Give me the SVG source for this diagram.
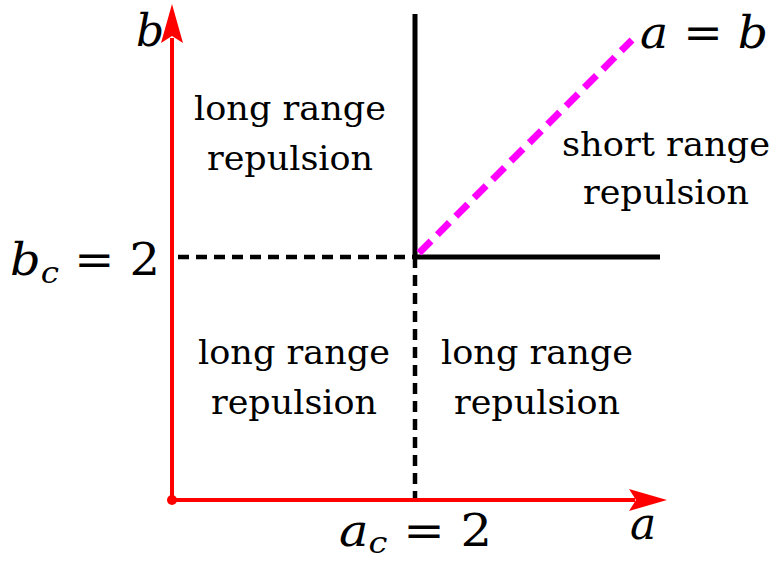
<svg xmlns="http://www.w3.org/2000/svg" width="775" height="563" viewBox="0 0 775 563">
<style>
.lbl{font-family:"DejaVu Serif",serif;font-size:33px;fill:#000;text-anchor:middle}
.math{font-family:"DejaVu Serif",serif;font-size:44px;fill:#000}
.it{font-style:italic}
.ax{stroke:#ff0000;stroke-width:4;fill:none}
.solid{stroke:#000;stroke-width:5;fill:none}
.dash{stroke:#000;stroke-width:4.5;stroke-dasharray:11 7;fill:none}
</style>
<rect width="775" height="563" fill="#fff"/>
<g id="connectors">
<line class="dash" x1="178" y1="257" x2="415" y2="257"/>
<line class="dash" x1="415" y1="257" x2="415" y2="500"/>
<line class="solid" x1="415" y1="14" x2="415" y2="259"/>
<line class="solid" x1="413" y1="257" x2="660" y2="257"/>
<line x1="419" y1="253" x2="632" y2="40" stroke="#ff00ff" stroke-width="7" stroke-dasharray="17 9"/>
</g>
<g id="axes">
<line class="ax" x1="172" y1="500" x2="172" y2="38"/>
<polygon points="172,4 183,43 172,36 161,43" fill="#ff0000"/>
<line class="ax" x1="172" y1="500" x2="635" y2="500"/>
<polygon points="667,500 629,489 636,500 629,511" fill="#ff0000"/>
<circle cx="172" cy="500" r="5" fill="#ff0000"/>
</g>
<g id="labels">
<text class="math it" x="136" y="46">b</text>
<text class="math" x="640" y="48" textLength="128" lengthAdjust="spacingAndGlyphs"><tspan class="it">a</tspan> = <tspan class="it">b</tspan></text>
<text class="math" x="10" y="275" textLength="150" lengthAdjust="spacingAndGlyphs"><tspan class="it">b</tspan><tspan class="it" font-size="30" dy="8">c</tspan><tspan dy="-8"> = 2</tspan></text>
<text class="math" x="339" y="546" textLength="153" lengthAdjust="spacingAndGlyphs"><tspan class="it">a</tspan><tspan class="it" font-size="30" dy="7">c</tspan><tspan dy="-7"> = 2</tspan></text>
<text class="math it" x="630" y="539">a</text>
</g>
<g id="region-upper-left">
<text class="lbl" x="290" y="120" textLength="192" lengthAdjust="spacingAndGlyphs">long range</text>
<text class="lbl" x="290" y="170" textLength="166" lengthAdjust="spacingAndGlyphs">repulsion</text>
</g>
<g id="region-upper-right">
<text class="lbl" x="666" y="156" textLength="208" lengthAdjust="spacingAndGlyphs">short range</text>
<text class="lbl" x="666" y="204" textLength="166" lengthAdjust="spacingAndGlyphs">repulsion</text>
</g>
<g id="region-lower-left">
<text class="lbl" x="294" y="364" textLength="192" lengthAdjust="spacingAndGlyphs">long range</text>
<text class="lbl" x="294" y="414" textLength="166" lengthAdjust="spacingAndGlyphs">repulsion</text>
</g>
<g id="region-lower-right">
<text class="lbl" x="537" y="364" textLength="192" lengthAdjust="spacingAndGlyphs">long range</text>
<text class="lbl" x="537" y="414" textLength="166" lengthAdjust="spacingAndGlyphs">repulsion</text>
</g>
</svg>
